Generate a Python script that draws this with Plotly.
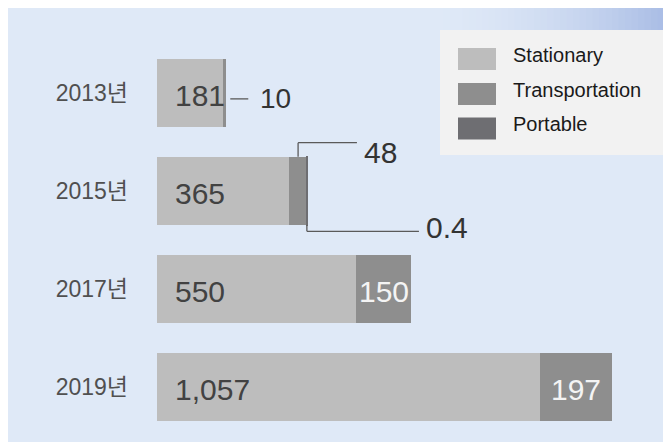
import plotly.graph_objects as go

# ---------------- data ----------------
years = ["2013년", "2015년", "2017년", "2019년"]
stationary = [181, 365, 550, 1057]
transportation = [10, 48, 150, 197]
portable = [None, 0.4, None, None]
series_names = ["Stationary", "Transportation", "Portable"]

# ---------------- styles ----------------
colors = ["#bdbdbd", "#8e8e8e", "#6e6e72"]
W, H = 671, 442
OFF = 8                  # page body margin (screen px -> figure px)
PLOT_LEFT = 157 - OFF    # px where bars start (figure coords)
S = 0.3627               # px per unit
XMAX = (W - PLOT_LEFT) / S
ROW = 98                 # px per category
Y_TOP = 44 - OFF         # px top of category band
HALF = 0.35              # half bar thickness (category units)
FONT = "Liberation Sans, Arial, Noto Sans CJK KR, sans-serif"


def px(x):
    """screen x -> paper"""
    return (x - OFF) / W


def py(y):
    """screen y -> paper"""
    return 1 - (y - OFF) / H


totals = [s + t + (p or 0) for s, t, p in zip(stationary, transportation, portable)]

fig = go.Figure()
for name, vals, col in zip(series_names, [stationary, transportation, portable], colors):
    fig.add_trace(go.Bar(
        y=years, x=vals, name=name, orientation="h",
        marker=dict(color=col, line=dict(width=1.2 if name == "Portable" else 0, color=col)),
        showlegend=False, hoverinfo="x+y+name",
    ))

shapes = []
annotations = []

# background: blue gradient in the top-right corner
base = (223, 233, 247)
deep = (160, 181, 226)
n = 40
x_start, x_end = 430, 690
for k in range(n):
    t = (k + 1) / n
    f = t ** 1.8
    c = tuple(int(round(b + (d - b) * f)) for b, d in zip(base, deep))
    x0 = x_start + (x_end - x_start) * k / n
    x1 = x_start + (x_end - x_start) * (k + 1) / n + 0.5
    shapes.append(dict(type="rect", xref="paper", yref="paper", x0=px(x0), x1=px(x1),
                       y0=py(36), y1=py(0), fillcolor="rgb(%d,%d,%d)" % c, line_width=0, layer="below"))

# stationary labels inside the bars
for i, y in enumerate(years):
    annotations.append(dict(x=0, y=i + 0.03, xref="x", yref="y", text=f"{stationary[i]:,}",
                            showarrow=False, xanchor="left", xshift=16,
                            font=dict(family=FONT, size=30, color="#424242")))

line_style = dict(color="#5a5a5a", width=1.3)
for i, y in enumerate(years):
    tr = transportation[i]
    if tr >= 100:
        annotations.append(dict(x=stationary[i] + tr / 2, y=i + 0.03, xref="x", yref="y",
                                text=f"{tr:,}", showarrow=False, xanchor="center",
                                font=dict(family=FONT, size=30, color="#f4f4f4")))
    elif portable[i] is None:
        # short dash then value
        yy = i + 0.06
        shapes.append(dict(type="line", xref="x", yref="y", x0=totals[i] + 4 / S, x1=totals[i] + 22 / S,
                           y0=yy, y1=yy, line=line_style))
        annotations.append(dict(x=totals[i] + 32 / S, y=yy, xref="x", yref="y", text=f"{tr:,}",
                                showarrow=False, xanchor="left",
                                font=dict(family=FONT, size=28, color="#333333")))
    else:
        # elbow up for transportation
        xc = stationary[i] + tr / 2
        top = i - HALF
        yl = top - 14 / ROW
        shapes.append(dict(type="line", xref="x", yref="y", x0=xc, x1=xc, y0=top, y1=yl, line=line_style))
        shapes.append(dict(type="line", xref="x", yref="y", x0=xc, x1=totals[i] + 50 / S, y0=yl, y1=yl,
                           line=line_style))
        annotations.append(dict(x=totals[i] + 55 / S, y=i - 0.39, xref="x", yref="y", text=f"{tr:,}",
                                showarrow=False, xanchor="left",
                                font=dict(family=FONT, size=30, color="#333333")))
        # elbow down for portable
        po = portable[i]
        xp = totals[i] - po / 2
        bot = i + HALF
        yb = bot + 6 / ROW
        shapes.append(dict(type="line", xref="x", yref="y", x0=xp, x1=xp, y0=bot, y1=yb, line=line_style))
        shapes.append(dict(type="line", xref="x", yref="y", x0=xp, x1=totals[i] + 112 / S, y0=yb, y1=yb,
                           line=line_style))
        annotations.append(dict(x=totals[i] + 117 / S, y=i + 0.375, xref="x", yref="y", text=f"{po}",
                                showarrow=False, xanchor="left",
                                font=dict(family=FONT, size=30, color="#333333")))

# manual legend
shapes.append(dict(type="rect", xref="paper", yref="paper", x0=px(440), x1=px(W + 20), y0=py(155), y1=py(30),
                   fillcolor="#f2f2f2", line_width=0))
row_centers = [59, 94, 128.5]
for name, col, cy in zip(series_names, colors, row_centers):
    shapes.append(dict(type="rect", xref="paper", yref="paper", x0=px(458), x1=px(496),
                       y0=py(cy + 11), y1=py(cy - 11), fillcolor=col, line_width=0))
    annotations.append(dict(x=px(511), y=py(cy), xref="paper", yref="paper", text=name,
                            showarrow=False, xanchor="left", yanchor="middle", yshift=4,
                            font=dict(family=FONT, size=20, color="#1a1a1a")))

fig.update_layout(
    width=W, height=H, autosize=False,
    margin=dict(l=0, r=0, t=0, b=0),
    paper_bgcolor="rgb(%d,%d,%d)" % base,
    plot_bgcolor="rgba(0,0,0,0)",
    barmode="stack", bargap=0.3,
    showlegend=False,
    xaxis=dict(domain=[PLOT_LEFT / W, 1], range=[0, XMAX], visible=False, fixedrange=True),
    yaxis=dict(domain=[1 - (Y_TOP + 4 * ROW) / H, 1 - Y_TOP / H], range=[3.5, -0.5], type="category",
               categoryorder="array", categoryarray=years,
               showgrid=False, zeroline=False, showline=False, ticks="",
               ticklabelstandoff=28,
               tickfont=dict(family=FONT, size=23, color="#505050"), fixedrange=True),
    shapes=shapes,
    annotations=annotations,
)

fig.write_html("out.html")
